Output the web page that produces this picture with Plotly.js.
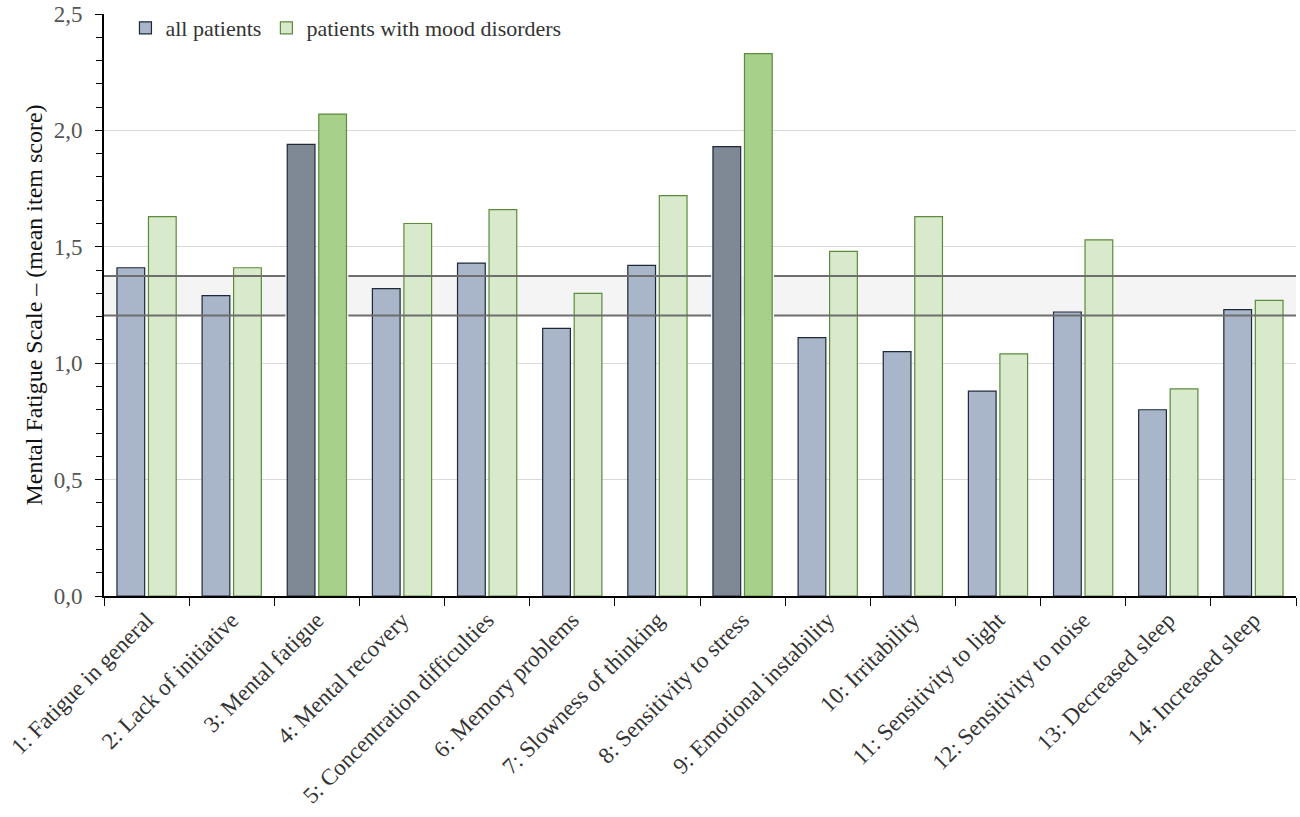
<!DOCTYPE html>
<html>
<head>
<meta charset="utf-8">
<script src="https://cdn.plot.ly/plotly-3.0.1.min.js"></script>
<style>
  html, body { margin: 0; padding: 0; background: #fff; }
  #myDiv { width: 1300px; height: 817px; }
</style>
</head>
<body>
<div id="myDiv"></div>
<script>
// item labels of the Mental Fatigue Scale
const items = [
    '1: Fatigue in general', '2: Lack of initiative', '3: Mental fatigue',
    '4: Mental recovery', '5: Concentration difficulties', '6: Memory problems',
    '7: Slowness of thinking', '8: Sensitivity to stress', '9: Emotional instability',
    '10: Irritability', '11: Sensitivity to light', '12: Sensitivity to noise',
    '13: Decreased sleep', '14: Increased sleep'
];

// mean item scores
const allPatients = [1.41, 1.29, 1.94, 1.32, 1.43, 1.15, 1.42, 1.93, 1.11, 1.05, 0.88, 1.22, 0.80, 1.23];
const moodPatients = [1.63, 1.41, 2.07, 1.60, 1.66, 1.30, 1.72, 2.33, 1.48, 1.63, 1.04, 1.53, 0.89, 1.27];

// items that are drawn with the darker colours
const highlighted = [2, 7];

// reference band (lower / upper limit)
const bandLow = 1.205;
const bandHigh = 1.375;

// colours
const allLight = '#a9b5c8', allDark = '#7f8895', allLine = '#1e2838';
const moodLight = '#d8eacb', moodDark = '#a7d08b', moodLine = '#5b8c3c';

const allColors = items.map((d, i) => highlighted.includes(i) ? allDark : allLight);
const moodColors = items.map((d, i) => highlighted.includes(i) ? moodDark : moodLight);

const serif = 'Liberation Serif, Times New Roman, serif';

const traceAll = {
    x: items,
    y: allPatients,
    name: 'all patients',
    type: 'bar',
    marker: { color: allColors, line: { color: allLine, width: 1.2 } },
    hoverinfo: 'x+y'
};

const traceMood = {
    x: items,
    y: moodPatients,
    name: 'patients with mood disorders',
    type: 'bar',
    marker: { color: moodColors, line: { color: moodLine, width: 1.2 } },
    hoverinfo: 'x+y'
};

const bargap = 0.26;
const half = (1 - bargap) / 2;

// the band lines stop at the dark bars, so split them in segments
let segments = [];
let start = -0.5;
highlighted.forEach((h) => {
    segments.push([start, h - half]);
    start = h + half;
});
segments.push([start, items.length - 0.5]);

let shapes = [{
    type: 'rect', xref: 'paper', yref: 'y',
    x0: 0, x1: 1, y0: bandLow, y1: bandHigh,
    fillcolor: '#f4f4f4', line: { width: 0 }, layer: 'below'
}];
segments.forEach((s) => {
    [bandLow, bandHigh].forEach((v) => {
        shapes.push({
            type: 'line', xref: 'x', yref: 'y',
            x0: s[0], x1: s[1], y0: v, y1: v,
            line: { color: '#6e6e6e', width: 2 }, layer: 'above'
        });
    });
});

const layout = {
    width: 1300,
    height: 817,
    margin: { l: 104, r: 4, t: 14, b: 221 },
    paper_bgcolor: '#fff',
    plot_bgcolor: '#fff',
    separators: ',.',
    font: { family: serif, size: 22, color: '#333' },
    barmode: 'group',
    bargap: bargap,
    bargroupgap: 0.12,
    showlegend: true,
    legend: {
        orientation: 'h',
        x: 0.018, y: 1.012,
        xanchor: 'left', yanchor: 'top',
        bgcolor: 'rgba(0,0,0,0)',
        font: { family: serif, size: 22, color: '#333' },
        itemwidth: 20,
        traceorder: 'normal'
    },
    xaxis: {
        type: 'category',
        tickangle: -45,
        tickson: 'boundaries',
        ticks: 'outside',
        ticklen: 8,
        tickcolor: '#000',
        showline: true,
        linecolor: '#000',
        linewidth: 1.5,
        showgrid: false,
        tickfont: { family: serif, size: 23, color: '#333' },
        range: [-0.5, items.length - 0.5]
    },
    yaxis: {
        range: [0, 2.5],
        dtick: 0.5,
        tickformat: '.1f',
        ticks: 'outside',
        ticklen: 7,
        tickcolor: '#000',
        ticklabelstandoff: 8,
        showline: true,
        linecolor: '#000',
        linewidth: 2,
        showgrid: true,
        gridcolor: '#d9d9d9',
        gridwidth: 1.2,
        zeroline: false,
        minor: { dtick: 0.1, ticks: 'outside', ticklen: 6, tickcolor: '#000', showgrid: false },
        tickfont: { family: serif, size: 23, color: '#555' },
        title: {
            text: 'Mental Fatigue Scale – (mean item score)',
            font: { family: serif, size: 24, color: '#111' },
            standoff: 4
        }
    },
    shapes: shapes
};

Plotly.newPlot('myDiv', [traceAll, traceMood], layout, { displayModeBar: false, staticPlot: true });
</script>
</body>
</html>
